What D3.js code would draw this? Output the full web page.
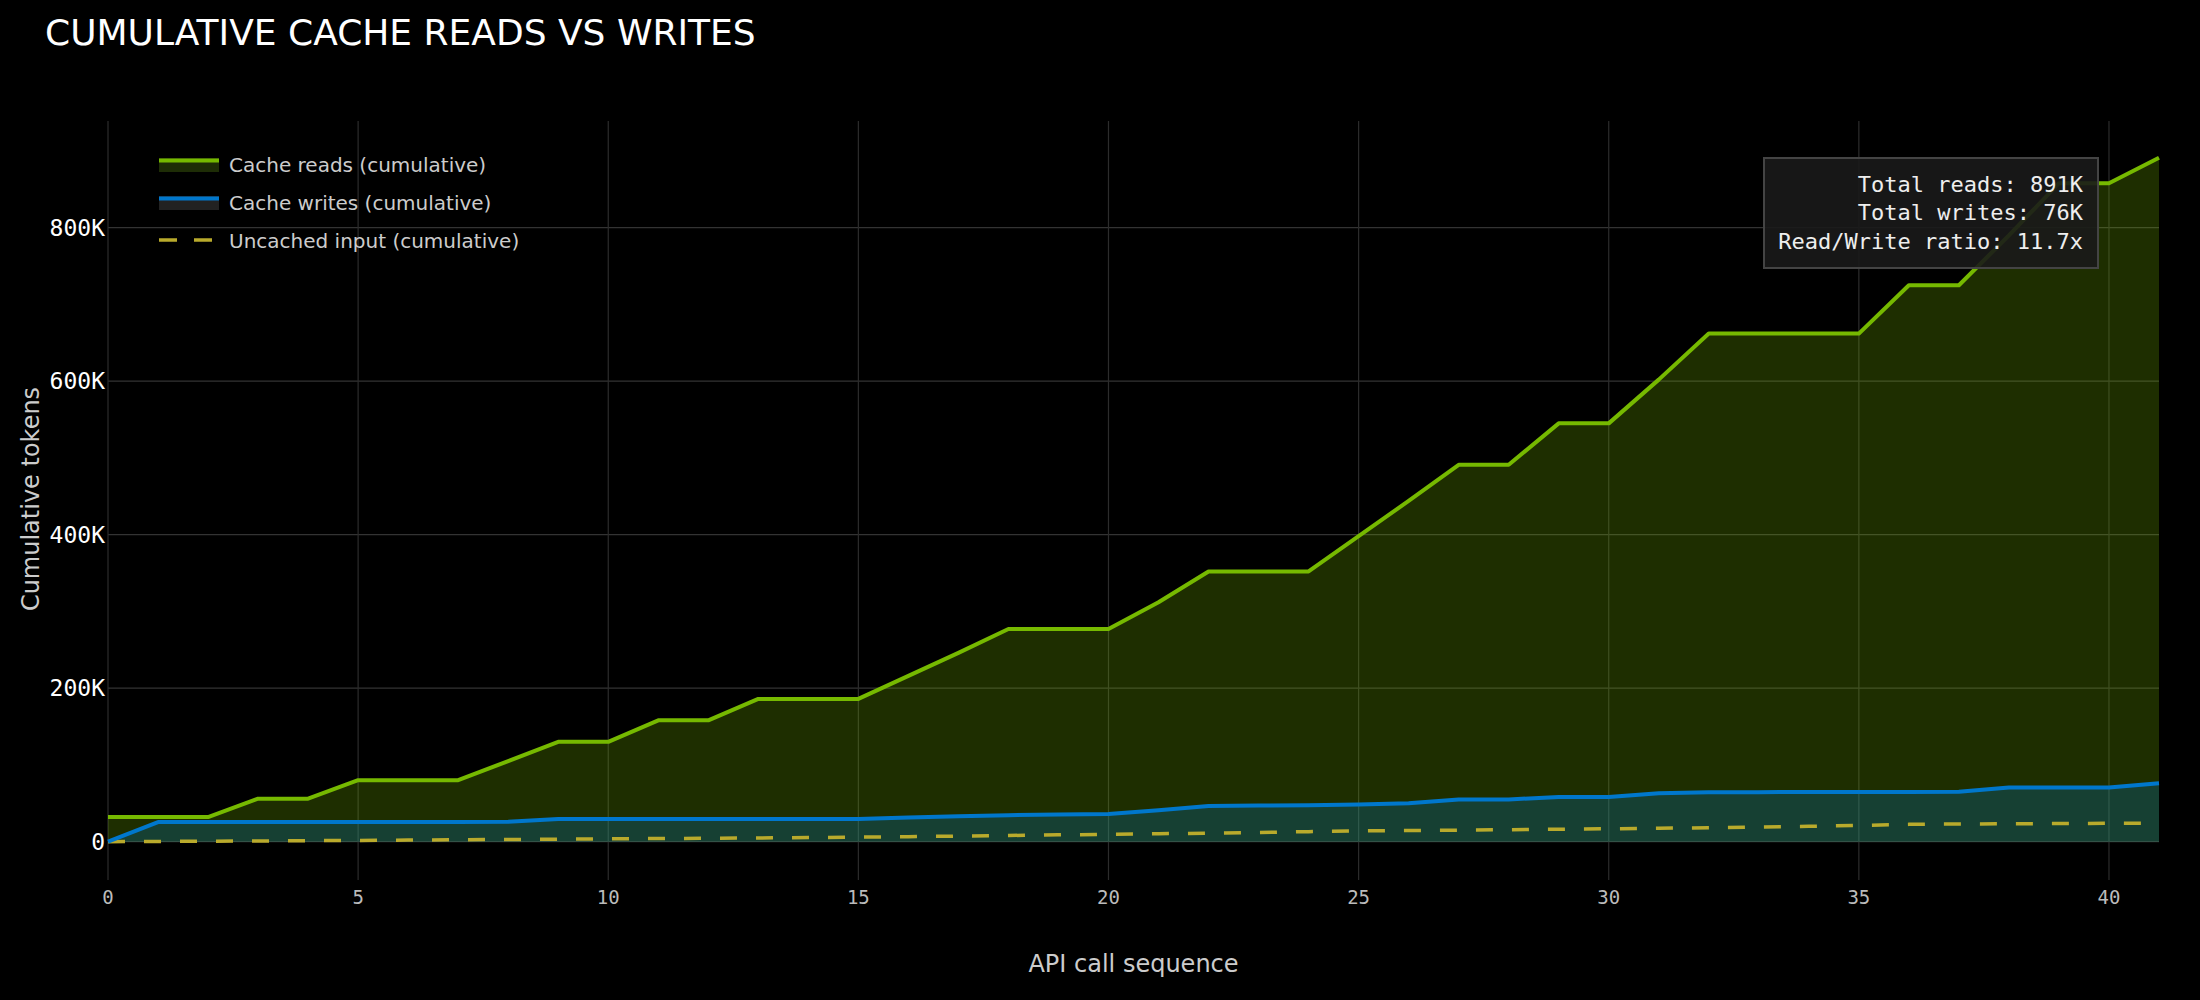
<!DOCTYPE html>
<html>
  <head>
    <script src="https://d3js.org/d3.v7.min.js"></script>
    <style>
      body {
        margin: 0;
        background: #000;
      }
      text {
        font-family: "DejaVu Sans", sans-serif;
      }
      .mono {
        font-family: "DejaVu Sans Mono", monospace;
      }
    </style>
  </head>
  <body>
    <svg width="2200" height="1000" id="chart"></svg>
    <script>
      // cumulative tokens per API call
      const cacheReads = [32000, 32000, 32000, 56000, 56000, 80000, 80000, 80000, 105000, 130000,
        130000, 158000, 158000, 186000, 186000, 186000, 216000, 246000, 277000, 277000,
        277000, 312000, 352000, 352000, 352000, 398000, 444000, 491000, 491000, 545000,
        545000, 602000, 662000, 662000, 662000, 662000, 725000, 725000, 790000, 858000,
        858000, 891000];
      const cacheWrites = [0, 25500, 25500, 25500, 25500, 25500, 25500, 25500, 25800, 29500,
        29500, 29500, 29500, 29500, 29500, 29500, 31500, 33000, 34500, 35500,
        36000, 41000, 46500, 47000, 47500, 48500, 50000, 55000, 55000, 58000,
        58000, 63000, 64500, 64500, 64700, 64700, 64700, 65000, 70500, 70500,
        70500, 76000];
      const uncachedInput = [0, 300, 600, 900, 1200, 1600, 2000, 2400, 2800, 3200,
        3600, 4000, 4400, 4800, 5300, 5800, 6500, 7200, 8000, 8800,
        9500, 10300, 11000, 12000, 13000, 14000, 14500, 15000, 15500, 16200,
        16800, 17400, 18100, 19000, 20000, 21000, 22500, 23000, 23300, 23600,
        23900, 24000];

      const xTicks = [0, 5, 10, 15, 20, 25, 30, 35, 40];
      const yTicks = [0, 200000, 400000, 600000, 800000];
      const yTickLabels = ["0", "200K", "400K", "600K", "800K"];
      const legendLabels = ["Cache reads (cumulative)", "Cache writes (cumulative)", "Uncached input (cumulative)"];
      const statLines = ["Total reads: 891K", "Total writes: 76K", "Read/Write ratio: 11.7x"];

      const green = "#76b900";
      const blue = "#0077cc";
      const olive = "#b9aa2c";

      let svg = d3.select("#chart");

      let xScale = d3.scaleLinear().domain([0, cacheReads.length - 1]).range([108, 2159]);
      let yScale = d3.scaleLinear().domain([-50000, 939000]).range([880, 121]);

      svg.append("text")
        .attr("x", 45)
        .attr("y", 45)
        .text("CUMULATIVE CACHE READS VS WRITES")
        .style("fill", "#fff")
        .style("font-size", "36px");

      // grid
      let grid = svg.append("g").attr("id", "grid");
      grid.selectAll("line.hgrid").data(yTicks)
        .join("line")
        .attr("class", "hgrid")
        .attr("x1", xScale.range()[0])
        .attr("x2", xScale.range()[1])
        .attr("y1", d => yScale(d))
        .attr("y2", d => yScale(d))
        .attr("stroke", "#333")
        .attr("stroke-width", 1.2);
      grid.selectAll("line.vgrid").data(xTicks)
        .join("line")
        .attr("class", "vgrid")
        .attr("x1", d => xScale(d))
        .attr("x2", d => xScale(d))
        .attr("y1", yScale.range()[1])
        .attr("y2", yScale.range()[0])
        .attr("stroke", "#2c2c2c")
        .attr("stroke-width", 1.2);

      let area = vals => d3.area()
        .x((d, i) => xScale(i))
        .y0(yScale(0))
        .y1(d => yScale(d))(vals);
      let line = vals => d3.line()
        .x((d, i) => xScale(i))
        .y(d => yScale(d))(vals);

      let plot = svg.append("g").attr("id", "plot");
      plot.append("path").attr("d", area(cacheReads)).attr("fill", green).attr("fill-opacity", 0.25);
      plot.append("path").attr("d", area(cacheWrites)).attr("fill", blue).attr("fill-opacity", 0.25);
      plot.append("path").attr("d", line(uncachedInput))
        .attr("fill", "none")
        .attr("stroke", olive)
        .attr("stroke-width", 3.5)
        .attr("stroke-dasharray", "17,19");
      plot.append("path").attr("d", line(cacheWrites))
        .attr("fill", "none")
        .attr("stroke", blue)
        .attr("stroke-width", 4)
        .attr("stroke-linejoin", "round");
      plot.append("path").attr("d", line(cacheReads))
        .attr("fill", "none")
        .attr("stroke", green)
        .attr("stroke-width", 4)
        .attr("stroke-linejoin", "round");

      // axes labels
      svg.append("g").selectAll("text").data(yTicks)
        .join("text")
        .attr("class", "mono")
        .attr("x", 105)
        .attr("y", d => yScale(d))
        .attr("dy", "0.36em")
        .attr("text-anchor", "end")
        .text((d, i) => yTickLabels[i])
        .style("fill", "#fff")
        .style("font-size", "23px");
      svg.append("g").selectAll("text").data(xTicks)
        .join("text")
        .attr("class", "mono")
        .attr("x", d => xScale(d))
        .attr("y", 904)
        .attr("text-anchor", "middle")
        .text(d => d)
        .style("fill", "#bbb")
        .style("font-size", "19px");

      svg.append("text")
        .attr("x", (xScale.range()[0] + xScale.range()[1]) / 2)
        .attr("y", 972)
        .attr("text-anchor", "middle")
        .text("API call sequence")
        .style("fill", "#ccc")
        .style("font-size", "24px");
      svg.append("text")
        .attr("transform", "translate(39,499) rotate(-90)")
        .attr("text-anchor", "middle")
        .text("Cumulative tokens")
        .style("fill", "#ccc")
        .style("font-size", "24px");

      // legend
      let legend = svg.append("g").attr("id", "legend");
      legend.append("rect").attr("x", 159).attr("y", 158).attr("width", 60).attr("height", 14).style("fill", "#1e2d06");
      legend.append("line").attr("x1", 159).attr("x2", 219).attr("y1", 160.5).attr("y2", 160.5)
        .style("stroke", green).style("stroke-width", 4);
      legend.append("rect").attr("x", 159).attr("y", 196).attr("width", 60).attr("height", 14).style("fill", "#222");
      legend.append("line").attr("x1", 159).attr("x2", 219).attr("y1", 198.5).attr("y2", 198.5)
        .style("stroke", blue).style("stroke-width", 4);
      legend.append("line").attr("x1", 159).attr("x2", 219).attr("y1", 240).attr("y2", 240)
        .style("stroke", olive).style("stroke-width", 3.5).style("stroke-dasharray", "18,17");
      legend.selectAll("text").data(legendLabels)
        .join("text")
        .attr("x", 229)
        .attr("y", (d, i) => 165 + i * 38)
        .attr("dy", "0.36em")
        .text(d => d)
        .style("fill", "#ccc")
        .style("font-size", "20px");

      // stats box
      let stats = svg.append("g").attr("id", "stats");
      stats.append("rect")
        .attr("x", 1764)
        .attr("y", 158)
        .attr("width", 334)
        .attr("height", 110)
        .style("fill", "#1a1a1a")
        .style("fill-opacity", 0.9)
        .style("stroke", "#444")
        .style("stroke-width", 2);
      stats.selectAll("text").data(statLines)
        .join("text")
        .attr("class", "mono")
        .attr("x", 2083)
        .attr("y", (d, i) => 192 + i * 28.4)
        .attr("text-anchor", "end")
        .text(d => d)
        .style("fill", "#eee")
        .style("font-size", "22px");
    </script>
  </body>
</html>
